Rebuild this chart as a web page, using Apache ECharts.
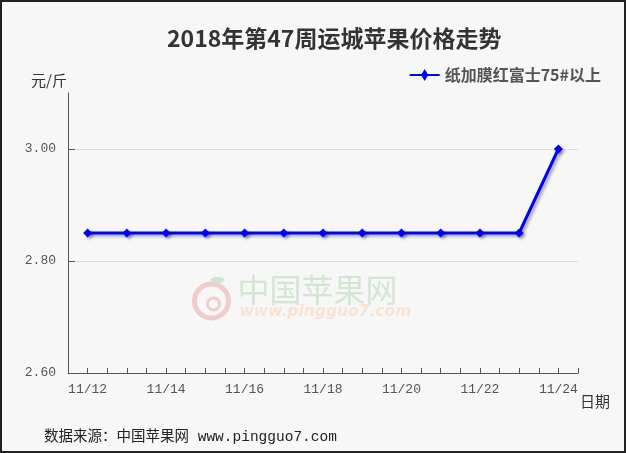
<!DOCTYPE html>
<html>
<head>
<meta charset="utf-8">
<script src="https://cdn.jsdelivr.net/npm/echarts@6/dist/echarts.min.js"></script>
<style>
html,body{margin:0;padding:0;background:#f7f7f7;}
#c{width:626px;height:453px;}
</style>
</head>
<body>
<div id="c"></div>
<script>
var categories = ['11/12','11/13','11/14','11/15','11/16','11/17','11/18','11/19','11/20','11/21','11/22','11/23','11/24'];
var seriesName = '纸加膜红富士75#以上';
var prices = [2.85,2.85,2.85,2.85,2.85,2.85,2.85,2.85,2.85,2.85,2.85,2.85,3.00];
var titleText = '2018年第47周运城苹果价格走势';
var yUnit = '元/斤';
var xName = '日期';
var sourceText = '数据来源：中国苹果网 www.pingguo7.com';

var chart = echarts.init(document.getElementById('c'));
var axisColor = '#555';
var labelFont = "'Liberation Mono','Noto Sans CJK SC',monospace";
chart.setOption({
  backgroundColor: '#f7f7f7',
  animation: false,
  title: {
    text: titleText,
    left: 162, top: 22,
    textStyle: {fontFamily: "'Noto Sans CJK SC'", fontSize: 23, fontWeight: 'bold', color: '#333'}
  },
  legend: {
    right: 20, top: 62,
    itemWidth: 30, itemHeight: 12,
    itemGap: 5,
    textStyle: {fontFamily: "'Noto Sans CJK SC'", fontSize: 16, fontWeight: 'bold', color: '#555'},
    data: [{name: seriesName, icon: 'path://M0,5L12,5L15,0L18,5L30,5L30,7L18,7L15,12L12,7L0,7Z'}]
  },
  grid: {left: 68, top: 93, right: 48, bottom: 80, containLabel: false},
  xAxis: [{
    type: 'category',
    data: categories,
    boundaryGap: true,
    axisLine: {lineStyle: {color: axisColor, width: 1}},
    axisTick: {show: true, inside: true, length: 5, interval: 0, lineStyle: {color: axisColor}},
    axisLabel: {interval: 1, margin: 10, color: '#555', fontFamily: labelFont, fontSize: 13}
  }, {
    type: 'category',
    data: categories,
    position: 'bottom',
    boundaryGap: true,
    axisLine: {show: false},
    axisTick: {show: true, inside: true, length: 5, interval: 0, alignWithLabel: true, lineStyle: {color: axisColor}},
    axisLabel: {show: false}
  }],
  yAxis: {
    type: 'value',
    min: 2.6, max: 3.1, interval: 0.2,
    axisLine: {show: true, lineStyle: {color: axisColor, width: 1}},
    axisTick: {show: true, inside: true, length: 7, lineStyle: {color: axisColor}},
    splitLine: {show: true, showMinLine: false, showMaxLine: false, lineStyle: {color: '#dcdcdc', width: 1}},
    axisLabel: {showMaxLabel: false, margin: 12, color: '#555', fontFamily: labelFont, fontSize: 13,
      formatter: function (v) { return v.toFixed(2); }}
  },
  series: [{
    name: seriesName,
    type: 'line',
    data: prices,
    symbol: 'diamond',
    symbolSize: 9,
    lineStyle: {color: '#0000ff', width: 3, shadowColor: 'rgba(0,0,0,0.35)', shadowBlur: 3, shadowOffsetX: 2, shadowOffsetY: 2},
    itemStyle: {color: '#0000ff', shadowColor: 'rgba(0,0,0,0.35)', shadowBlur: 3, shadowOffsetX: 2, shadowOffsetY: 2},
    z: 5
  }],
  graphic: [
    {type: 'rect', shape: {x: 1, y: 1, width: 624, height: 451}, style: {fill: 'none', stroke: '#222', lineWidth: 2}, z: 100},
    {type: 'text', left: 31, top: 73, style: {text: yUnit, fontFamily: "'Noto Sans CJK SC'", fontSize: 15, fill: '#333'}},
    {type: 'text', left: 580, top: 394, style: {text: xName, fontFamily: "'Noto Sans CJK SC'", fontSize: 15, fill: '#333'}},
    {type: 'text', left: 44, top: 430, style: {text: sourceText, fontFamily: labelFont, fontSize: 14.5, fill: '#222'}},
    // watermark
    {type: 'group', left: 192, top: 274, z: 0, silent: true, children: [
      {type: 'circle', shape: {cx: 19, cy: 27, r: 17}, style: {fill: 'none', stroke: '#f0cccc', lineWidth: 5}},
      {type: 'circle', shape: {cx: 21, cy: 30, r: 6}, style: {fill: 'none', stroke: '#f0cccc', lineWidth: 3}},
      {type: 'ellipse', shape: {cx: 25, cy: 6, rx: 7, ry: 3}, style: {fill: '#cfe3cf'}},
      {type: 'text', x: 45, y: 0, style: {text: '中国苹果网', fontFamily: "'Noto Sans CJK SC'", fontSize: 32, fill: '#d2e6d2', letterSpacing: 4}},
      {type: 'text', x: 47, y: 30, style: {text: 'www.pingguo7.com', fontFamily: "'DejaVu Sans'", fontStyle: 'italic', fontWeight: 'bold', fontSize: 15.5, fill: '#fbe2cf'}}
    ]}
  ]
});
</script>
</body>
</html>
